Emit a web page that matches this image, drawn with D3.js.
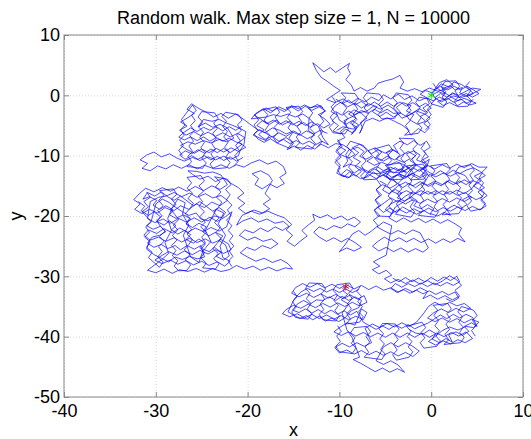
<!DOCTYPE html>
<html>
<head>
<meta charset="utf-8">
<script src="https://cdn.jsdelivr.net/npm/d3@7"></script>
<style>
body { margin: 0; background: #fff; }
text { font-family: "Liberation Sans", Arial, sans-serif; }
</style>
</head>
<body>
<div id="chart"></div>
<script>
var title = "Random walk. Max step size = 1, N = 10000";
var xTicks = [-40, -30, -20, -10, 0, 10];
var yTicks = [10, 0, -10, -20, -30, -40, -50];

// main walk, as flat x,y pairs
var walkA = [0,0, 0.8,0.6, 1.5,0.2, 1.2,1.1, 2.1,1.6, 2.6,0.9, 3.4,1.3, 3.1,0.4, 3.9,-0.2, 4.6,0.3, 4.1,1.0, 3.3,1.8, 2.5,2.2, 1.9,1.4, 1.1,1.9, 0.6,1.2, 1.4,0.5, 2.2,-0.3, 2.9,-0.9, 3.6,-0.5, 4.4,-1.0, 4.9,-1.3, 4.2,-1.6, 3.5,-1.1, 2.8,-1.8, 2.0,-1.2, 1.3,-1.7, 0.7,-1.0, 1.5,-0.6, 2.3,0.4, 3.0,0.0, 3.8,0.7, 4.5,1.2, 5.4,1.0, 4.8,0.5, 4.0,0.0, 3.2,-0.4, 2.4,-0.1, 1.6,-0.8, 0.9,-0.3, 0.2,-0.9, -0.5,-0.4, -1.2,0.2, -0.6,0.8, 0.1,0.4, 0.9,2.1, 1.7,2.6, 2.4,1.7];
var walkB = [1.6,1.0, 0.7,0.7, -0.2,1.2, -1.0,0.6, -1.8,1.1, -2.6,0.7, -3.4,1.2, -3.0,2.2, -3.4,3.3, -4.2,2.7, -5.0,2.4, -5.8,2.0, -6.2,1.2, -7.0,0.7, -7.7,1.3, -8.4,0.7, -8.7,1.7, -9.3,2.6, -8.8,3.6, -9.1,4.5, -8.9,5.3, -9.7,4.5, -10.4,3.8, -11.0,4.6, -11.7,3.9, -12.4,4.8, -12.9,5.4, -12.5,4.1, -12.0,3.0, -11.3,2.3, -10.6,1.5, -9.9,0.8, -10.7,0.0, -11.4,-0.7, -10.5,-1.2, -9.6,-0.6, -8.8,-1.3, -8.0,-0.5, -7.2,-1.1];
var walkC = [-6.5,-0.3, -5.7,-0.9, -5.2,0.1, -4.4,-0.6, -3.6,0.2, -2.9,-0.7, -2.1,-0.1, -1.3,-0.9, -0.5,-0.4, -0.2,-1.4, -0.9,-2.1, -0.4,-2.9, -1.2,-3.5, -0.6,-4.3, -1.5,-4.8, -2.3,-4.1, -1.9,-3.2, -2.7,-2.6, -2.2,-1.7, -3.1,-1.2, -3.8,-2.0, -3.3,-2.9, -4.1,-3.6, -4.9,-2.8, -5.6,-3.5, -6.4,-2.7, -5.9,-1.9, -6.8,-1.4, -7.6,-2.1, -8.3,-1.3, -9.1,-1.9, -9.8,-1.1, -10.5,-1.8, -10.9,-2.7, -10.2,-3.3, -10.8,-4.2, -10.1,-5.0, -10.7,-5.9, -9.9,-6.4, -9.3,-5.6, -8.6,-6.2, -8.1,-5.3, -8.8,-4.6, -8.2,-3.8, -9.0,-3.1, -8.4,-2.4, -7.6,-3.0, -7.0,-3.8, -7.7,-4.5, -7.5,-5.4, -7.8,-6.3, -7.2,-4.3, -6.4,-3.8, -5.6,-4.3, -4.8,-3.7, -4.0,-4.3, -3.2,-4.9, -2.6,-5.6, -2.2,-6.6, -1.4,-5.5, -0.7,-6.2, -0.2,-5.4, -0.8,-4.7, -0.1,-3.8, -0.7,-3.1, -1.6,-2.6, -2.4,-3.3, -3.2,-3.8, -4.0,-2.4, -4.7,-1.6, -5.5,-2.3, -6.3,-1.8, -7.0,-2.6, -7.9,-2.9, -8.7,-3.6, -9.5,-4.2, -9.2,-5.1, -9.9,-6.0];
var walkD = [-9.4,-7.0, -10.2,-7.6, -9.7,-8.5, -10.4,-9.3, -9.8,-10.2, -10.5,-11.1, -9.9,-12.0, -10.3,-12.9, -9.5,-13.5, -8.9,-12.7, -8.2,-13.4, -7.6,-12.6, -8.3,-11.8, -7.7,-11.0, -8.5,-10.3, -7.9,-9.5, -8.6,-8.7, -7.8,-8.1, -7.1,-8.8, -6.5,-9.7, -5.8,-9.0, -5.0,-9.6, -4.3,-8.9, -3.6,-9.5, -4.1,-8.3, -3.4,-7.6, -2.6,-8.2, -1.9,-7.5, -1.2,-8.3, -0.5,-7.6, -0.1,-8.6, -0.8,-9.3, -0.3,-10.2, -1.1,-10.8, -0.4,-11.7, -1.2,-12.4, -0.6,-13.2, -1.4,-13.8, -2.2,-13.1, -2.9,-13.8, -3.7,-13.2, -4.5,-13.9, -5.3,-13.2, -6.0,-13.8, -6.8,-13.1, -7.4,-13.9, -6.7,-12.4, -5.9,-11.8, -5.2,-12.5, -4.4,-11.9, -3.6,-12.5, -2.8,-11.8, -2.1,-12.4, -1.6,-11.5, -2.3,-10.8, -1.7,-10.0, -2.5,-9.3, -3.3,-10.0, -4.0,-10.7, -4.8,-10.1, -5.5,-10.8, -6.3,-10.2, -7.0,-10.9, -6.2,-11.6, -5.4,-11.1, -4.6,-11.6, -3.8,-11.0, -3.0,-11.5, -2.4,-12.0, -3.1,-12.7, -3.9,-12.8, -4.8,-12.6, -5.6,-13.0, -6.5,-12.9, -7.3,-12.3, -8.0,-11.8, -8.9,-11.4, -9.6,-11.9, -9.1,-10.9, -9.3,-9.8, -8.9,-8.9, -9.6,-8.2, -10.4,-8.0];
var walkE = [-11.2,-8.7, -12.0,-8.1, -12.7,-8.9, -13.5,-8.3, -14.2,-9.1, -14.9,-8.4, -15.7,-9.0, -15.1,-7.8, -15.8,-7.0, -16.6,-7.6, -17.3,-6.8, -18.1,-7.3, -18.8,-6.5, -18.2,-5.7, -19.0,-5.0, -18.4,-4.2, -17.6,-4.8, -16.9,-4.1, -16.2,-4.9, -15.4,-4.3, -14.7,-5.1, -13.9,-4.5, -13.2,-5.3, -12.4,-4.7, -11.7,-5.4, -11.0,-4.8, -11.6,-3.9, -12.3,-3.2, -11.5,-2.6, -12.2,-1.9, -13.0,-2.5, -13.7,-1.8, -14.5,-2.6, -15.2,-1.9, -16.0,-2.7, -16.8,-2.1, -17.5,-2.9, -18.3,-2.2, -19.1,-3.0, -19.6,-3.9, -18.0,-3.6, -17.2,-3.2, -16.4,-3.5, -15.6,-3.1, -14.8,-3.6, -14.0,-3.1, -13.3,-3.8, -13.4,-5.8, -12.7,-6.6, -13.5,-7.2, -14.3,-6.5, -15.0,-5.9, -15.8,-6.4, -16.5,-5.8, -17.3,-5.4, -18.1,-6.2, -19.0,-5.6, -19.8,-4.7, -20.5,-3.9];
var walkF = [-21.3,-3.1, -22.1,-3.8, -22.9,-3.0, -23.7,-3.6, -24.5,-2.8, -25.3,-2.2, -26.1,-1.4, -26.6,-2.3, -25.8,-3.0, -26.5,-3.7, -27.3,-4.4, -26.6,-5.1, -27.4,-5.8, -26.7,-6.6, -25.9,-6.0, -25.1,-6.7, -24.3,-6.1, -23.5,-6.8, -22.7,-6.2, -21.9,-6.9, -21.1,-6.3, -20.3,-7.0, -20.9,-7.8, -20.2,-8.6, -21.0,-9.3, -21.8,-8.7, -22.6,-9.4, -23.4,-8.8, -24.2,-9.5, -25.0,-8.9, -25.8,-9.6, -26.6,-9.0, -27.3,-8.3, -26.5,-7.7, -25.7,-8.1, -24.8,-7.5, -24.0,-7.9, -23.1,-7.3, -22.3,-7.7, -21.5,-7.1, -22.2,-5.4, -23.0,-4.8, -23.8,-5.3, -24.6,-4.6, -25.4,-5.2, -24.8,-4.0, -23.9,-4.3, -23.1,-4.0, -22.3,-4.6, -21.6,-5.0, -20.8,-5.5, -20.2,-6.0, -20.4,-8.2, -20.8,-9.1, -21.0,-10.0, -21.8,-10.6, -22.6,-10.1, -23.5,-10.7, -24.3,-10.2, -25.2,-10.8, -26.0,-10.3, -26.9,-10.9, -27.7,-10.4, -28.5,-9.7, -29.4,-10.2, -30.2,-9.4, -31.0,-9.9, -31.7,-10.7, -30.9,-11.3, -31.5,-12.1, -30.6,-12.5, -29.8,-11.7, -28.9,-12.2, -28.1,-11.5, -27.2,-12.1, -26.4,-11.5, -25.5,-12.2, -24.7,-11.6, -23.8,-12.1, -22.9,-11.5, -22.0,-12.1, -21.2,-11.5, -20.4,-11.9];
var walkG = [-19.6,-11.2, -18.7,-10.7, -17.8,-11.4, -16.9,-10.9, -16.1,-11.8, -15.8,-12.9, -16.5,-13.6, -16.0,-14.6, -16.8,-15.3, -17.6,-14.7, -18.4,-15.5, -19.2,-14.8, -18.8,-13.8, -19.5,-13.0, -18.6,-12.5, -17.7,-13.2, -17.3,-14.1, -18.1,-16.3, -17.5,-17.2, -18.3,-18.0, -17.6,-18.8, -18.4,-19.5, -19.3,-19.0, -20.2,-19.6, -21.0,-18.7, -20.3,-17.9, -21.1,-17.0, -20.4,-16.2, -21.0,-15.3];
var walkH = [-21.8,-14.6, -22.6,-13.7, -23.5,-14.3, -24.3,-13.4, -25.2,-13.9, -26.0,-13.1, -26.5,-12.5, -25.6,-12.6, -24.7,-12.9, -23.8,-12.7, -22.9,-13.2, -22.2,-14.8, -23.0,-15.6, -23.9,-15.0, -24.8,-15.8, -25.7,-15.1, -26.6,-15.9, -27.5,-15.2, -28.4,-15.9, -29.3,-15.3, -30.2,-16.0, -31.1,-15.4, -31.8,-16.3, -32.4,-17.3, -31.7,-18.0, -32.3,-18.9, -31.5,-19.6, -30.7,-18.9, -29.8,-19.5, -29.0,-18.6, -28.1,-19.2, -27.3,-18.3, -26.4,-18.9, -25.6,-18.0, -24.7,-18.6, -23.9,-17.7, -23.0,-18.3, -22.2,-17.4, -22.9,-16.6, -23.8,-17.0, -24.6,-16.3, -25.5,-16.9, -26.3,-16.2, -27.2,-16.8, -28.0,-16.1, -28.9,-16.7, -29.7,-16.9, -30.6,-17.6,
  -30.9,-20.4, -30.1,-21.1, -29.2,-20.5, -28.4,-21.2, -27.5,-20.4, -26.7,-21.0, -25.8,-20.3, -25.0,-21.0, -24.1,-20.2, -23.3,-20.9, -22.4,-20.1, -21.7,-19.3, -22.3,-21.8, -23.1,-22.5, -24.0,-21.9, -24.8,-22.6, -25.7,-22.0, -26.5,-22.7, -27.4,-22.0, -28.2,-22.8, -29.1,-22.1, -29.9,-22.9, -30.8,-22.3, -31.3,-23.2, -30.6,-24.0, -29.7,-23.5, -28.9,-24.2, -28.0,-23.6, -27.2,-24.3, -26.3,-23.7, -25.5,-24.4, -24.6,-23.8, -23.8,-24.5, -22.9,-23.9, -22.1,-24.6, -21.8,-25.6, -22.6,-26.2, -23.5,-25.6, -24.3,-26.3, -25.2,-25.7, -26.0,-26.4, -26.9,-25.8, -27.7,-26.5, -28.6,-25.9, -29.4,-26.6, -30.1,-27.3, -29.3,-27.9, -28.4,-27.3, -27.6,-28.0, -26.7,-27.4, -25.9,-28.1, -25.0,-27.5, -24.2,-28.2, -23.3,-27.6, -22.5,-28.3, -21.9,-27.5,
  -22.7,-26.9, -23.0,-25.0, -22.4,-23.2, -23.2,-21.3, -22.6,-19.5, -23.4,-18.9, -24.0,-20.6, -24.6,-22.4, -24.0,-24.2, -24.9,-25.9, -25.3,-27.7, -26.2,-26.8, -26.6,-25.0, -27.0,-23.2, -26.4,-21.5, -27.1,-19.7, -26.8,-17.8, -27.6,-17.2, -28.2,-18.6, -28.7,-20.4, -28.3,-22.4, -29.0,-24.4, -28.6,-26.2, -29.4,-27.3, -30.3,-28.3, -30.9,-29.0, -30.0,-29.4, -29.1,-28.8, -28.2,-29.5, -27.4,-28.9, -26.5,-29.2, -25.6,-28.7, -24.7,-29.3, -23.8,-28.7, -22.9,-29.2, -22.0,-28.9, -21.2,-28.2];
var walkI = [-20.3,-28.8, -19.4,-28.3, -18.6,-29.0, -17.7,-28.5, -16.8,-29.1, -15.9,-28.6, -15.1,-28.8, -15.6,-27.9, -16.4,-27.2, -17.3,-27.7, -18.2,-27.0, -19.1,-27.5, -20.0,-26.8, -20.8,-26.1, -20.1,-25.2, -19.2,-25.7, -18.4,-24.9, -17.5,-25.4, -16.7,-24.6, -17.4,-23.8, -18.3,-24.2, -19.2,-23.5, -20.0,-24.0, -20.9,-23.2, -20.3,-22.3, -19.4,-22.8, -18.6,-22.0, -17.8,-22.6, -17.0,-21.8, -16.2,-22.4, -15.5,-21.7, -16.1,-20.9, -17.0,-21.2, -17.9,-20.5, -18.8,-21.0, -19.6,-20.3, -20.5,-20.8, -21.2,-21.5, -20.6,-19.9];
var walkJ = [-19.6,-19.2, -18.7,-19.7, -17.8,-19.2, -16.9,-19.8, -16.0,-20.3, -15.2,-21.4, -15.8,-22.3, -15.1,-23.2, -15.7,-24.2, -14.9,-25.0, -14.2,-24.1, -13.5,-23.3, -14.1,-22.4, -13.4,-21.5, -12.7,-20.7, -12.9,-19.7, -12.1,-20.3, -11.3,-19.8, -10.6,-20.5, -9.8,-20.0, -9.1,-20.7, -8.4,-20.2, -7.7,-21.0, -8.3,-21.8, -9.1,-21.3, -9.8,-22.0, -10.6,-21.6, -11.4,-22.3, -12.2,-21.8, -12.8,-22.7, -12.2,-23.5, -11.4,-24.2, -10.6,-23.6, -9.8,-24.3, -9.1,-23.7, -8.3,-24.4, -7.6,-25.2, -8.4,-25.8, -9.2,-25.3, -10.0,-25.9, -9.4,-24.8, -8.6,-23.0, -7.9,-22.4, -7.2,-23.2, -6.5,-22.5];
var walkK = [-5.8,-21.6, -6.3,-20.7, -5.6,-19.9, -6.2,-19.0, -5.5,-18.2, -6.1,-17.3, -5.4,-16.5, -6.0,-15.6, -5.3,-14.8, -4.5,-15.4, -3.7,-14.7, -4.2,-13.8, -3.5,-13.0, -2.7,-13.5, -1.9,-12.9, -1.2,-12.2, -0.4,-11.6, 0.4,-12.2, 1.2,-11.5, 2.0,-12.1, 2.8,-11.4, 3.6,-12.0, 4.4,-11.3, 5.2,-11.9, 6.1,-11.9, 5.5,-12.8, 4.7,-13.4, 5.4,-14.2, 4.6,-15.0, 5.4,-15.8, 6.1,-16.6, 5.4,-17.4, 6.0,-18.3, 5.3,-19.0, 4.5,-18.4, 3.7,-19.1, 2.9,-18.5, 2.1,-19.2, 1.3,-18.6, 0.5,-19.3, -0.3,-18.7, -1.1,-19.4, -1.9,-18.8, -2.7,-19.5, -3.5,-18.9, -4.3,-19.6, -5.0,-18.9, -4.4,-18.0, -3.6,-17.4, -2.8,-18.0, -2.0,-17.3, -1.2,-17.9, -0.4,-17.2, 0.4,-17.8, 1.2,-17.1, 2.0,-17.7, 2.8,-17.0, 3.6,-17.6, 4.4,-16.9, 3.7,-16.1, 2.9,-16.6, 2.1,-15.9, 1.3,-16.5, 0.5,-15.8, -0.3,-16.4, -1.1,-15.8, -1.9,-16.4, -2.7,-15.8, -3.5,-16.4, -4.3,-15.9, -3.6,-15.0, -2.8,-14.4, -2.0,-15.0, -1.2,-14.3, -0.4,-14.9, 0.4,-14.2, 1.2,-14.8, 2.0,-14.1, 2.8,-14.7, 3.6,-14.0, 4.3,-14.6, 3.7,-13.3, 2.9,-12.8, 2.1,-13.4, 1.3,-12.9, 0.5,-13.5, -0.2,-13.1,
  -1.0,-15.2, -2.3,-17.0, -3.9,-18.5, -4.6,-20.3, -3.8,-21.0, -3.0,-20.3, -2.2,-21.0, -1.4,-20.4, -0.6,-21.1, 0.2,-20.5, 1.0,-21.2, 1.8,-20.6, 2.6,-21.3, 3.3,-22.0, 3.0,-23.0, 3.7,-24.3, 2.9,-23.7, 2.1,-24.4, 1.3,-23.8, 0.5,-24.5, -0.3,-23.8, -1.1,-24.4, -1.9,-23.7, -2.7,-24.3, -3.5,-23.6, -4.3,-24.2, -5.1,-23.5, -5.8,-24.2, -6.4,-25.0, -5.7,-25.8, -4.9,-25.2, -4.1,-25.9, -3.3,-25.3, -2.5,-26.0, -1.7,-25.4, -0.9,-26.0, -0.3,-25.3, -1.2,-22.8, -2.0,-22.3, -2.8,-23.0, -3.6,-22.4, -4.4,-23.0, -5.2,-22.4, -5.9,-21.8, -5.2,-21.0, -4.3,-21.6, -4.9,-26.5, -5.7,-27.1, -6.3,-27.6];
var walkM = [-5.6,-28.3, -6.4,-28.9, -5.7,-29.6, -4.9,-29.0, -4.3,-29.8, -5.1,-30.4];
var walkN = [-4.4,-31.1, -3.6,-30.5, -2.8,-31.2, -2.0,-30.6, -1.2,-31.3, -0.4,-30.7, 0.4,-31.4, 1.2,-30.8, 2.0,-29.9, 2.8,-30.6, 3.3,-31.5, 2.6,-32.3, 3.1,-33.3, 2.3,-33.9, 1.5,-33.2, 0.7,-33.8, -0.1,-33.1, -0.9,-33.7, -0.4,-32.5, -1.2,-31.9, -2.0,-32.6, -2.8,-32.0, -3.6,-32.6, -4.4,-31.9, -5.2,-32.3, -6.0,-31.6, -6.8,-32.2, -7.6,-31.5, -8.4,-32.1, -9.2,-31.4, -10.0,-32.0, -10.8,-31.3, -11.6,-31.9, -12.4,-31.2, -13.2,-31.8, -14.0,-31.2, -14.8,-31.9, -15.2,-32.8, -14.4,-33.4, -13.6,-32.8, -12.8,-33.5, -12.0,-32.9, -11.2,-33.6, -10.4,-33.0, -9.6,-33.7, -8.8,-33.1, -8.0,-33.8, -7.3,-33.2, -7.0,-34.3, -7.8,-34.9, -8.6,-34.3, -9.4,-35.0, -10.2,-34.4, -11.0,-35.1, -11.8,-34.5, -12.6,-35.2, -13.4,-34.6, -14.2,-35.3, -15.0,-34.8, -15.8,-35.5, -16.2,-36.2, -15.4,-36.7, -14.6,-36.2, -13.8,-36.9, -13.0,-36.3, -12.2,-37.0, -11.4,-36.4, -10.6,-37.1, -9.8,-36.5, -9.0,-37.2, -8.2,-36.6, -7.4,-37.2, -7.0,-36.0, -7.6,-35.4,
  -8.3,-38.1, -9.1,-37.7, -9.9,-38.4, -10.6,-39.2, -9.8,-39.8, -9.0,-39.2, -8.2,-39.9, -7.4,-39.3, -6.6,-40.0, -5.8,-39.4, -5.0,-40.1, -4.2,-39.4, -3.4,-40.1, -2.6,-39.4, -1.8,-40.1, -1.0,-39.4, -0.2,-40.1, 0.6,-39.4, 1.4,-40.0, 2.2,-39.3, 3.0,-39.9, 3.8,-39.2, 4.5,-40.3, 3.7,-41.0, 2.9,-40.5, 2.1,-41.2, 1.3,-40.7, 0.5,-41.4, -0.3,-40.8, 0.4,-40.0, 1.2,-39.0, 2.0,-38.4, 2.9,-38.9, 3.8,-38.3, 4.6,-38.5, 5.2,-37.6, 4.4,-37.1, 3.6,-37.7, 2.8,-37.0, 2.0,-37.6, 1.2,-36.9, 0.4,-37.5, -0.4,-36.9, 0.3,-36.0, 1.1,-35.4, 1.9,-36.0, 2.7,-35.3, 3.5,-35.9, 4.3,-35.3, 3.6,-34.5, 2.8,-34.9, 2.0,-34.3, 1.2,-34.9, 0.4,-34.3, -0.3,-35.0, -0.8,-36.1, -1.6,-37.6, -2.4,-38.3, -3.2,-37.7, -4.0,-38.4, -4.8,-37.8, -5.6,-38.5, -6.4,-37.9, -7.2,-38.6,
  -6.5,-41.0, -7.3,-41.6, -8.1,-41.0, -8.9,-41.7, -9.7,-41.1, -10.5,-41.8, -10.0,-42.7, -9.2,-42.2, -8.4,-42.9, -7.6,-42.3, -6.8,-43.0, -6.0,-42.4, -5.2,-43.1, -4.4,-42.5, -3.6,-43.2, -2.8,-42.6, -2.0,-43.3, -1.3,-42.4, -2.0,-41.6, -2.8,-41.0, -3.6,-41.7, -4.4,-41.0, -5.2,-41.7, -6.0,-44.0, -5.2,-44.6, -4.4,-44.0, -3.6,-44.7, -2.9,-45.9, -3.7,-45.3, -4.5,-45.9, -5.3,-45.2, -6.1,-45.8, -6.9,-45.1, -7.7,-44.4, -8.5,-43.8, -7.8,-43.4, -8.6,-40.2, -9.2,-38.8, -9.7,-36.1, -9.0,-34.6, -9.8,-33.9, -9.1,-33.0, -9.6,-32.4, -9.3,-31.7];

// further stretches of the walk in the dense patches, traced separately
var loopStart = [0.3,0.9, 1.0,1.5, 1.8,0.9, 2.5,1.5, 3.2,0.9, 3.9,1.5, 4.6,0.9, 5.2,0.3, 4.5,-0.3, 3.8,0.3, 3.1,-0.3, 2.4,0.3, 1.7,-0.3, 1.0,0.3, 0.4,-0.4, 1.1,-1.1, 1.8,-0.5, 2.5,-1.2, 3.2,-0.6, 3.9,-1.3, 4.6,-0.7];
var loopTop = [-10.3,-5.8, -9.6,-5.2, -8.5,-5.6, -7.9,-4.9, -8.6,-4.2, -9.3,-4.8, -10.0,-4.1, -10.4,-2.7, -9.7,-3.3, -9.0,-2.6, -8.3,-3.2, -7.6,-2.5, -6.9,-3.0, -6.2,-2.3, -5.5,-2.9, -4.8,-2.3, -4.1,-3.0, -3.4,-2.9, -2.7,-3.5, -2.0,-2.9, -1.3,-2.2, -0.6,-2.8, 0.0,-2.1, -0.6,-1.3, -1.3,-1.9, -2.0,-1.2, -2.7,-1.8, -3.4,-1.1, -4.1,-1.8, -4.8,-1.1, -5.5,-1.8, -6.2,-1.1, -6.9,-1.8, -7.6,-1.0, -8.3,-1.6, -9.0,-0.8, -9.7,-1.4, -10.4,-0.6];
var loopBand = [-10.1,-8.4, -9.3,-9.1, -9.9,-9.8, -9.0,-10.4, -8.3,-9.8, -8.8,-9.0, -8.0,-8.6, -7.3,-9.3, -7.8,-10.1, -7.1,-10.6, -6.4,-10.0, -6.9,-9.2, -6.1,-8.7, -5.4,-9.4, -5.9,-10.3, -5.2,-10.9, -4.5,-10.3, -4.9,-9.5, -4.1,-9.1, -3.4,-9.8, -3.8,-10.6, -3.0,-11.1, -2.3,-10.5, -2.7,-9.7, -1.9,-9.2, -1.2,-9.9, -1.6,-10.7, -0.8,-11.2, -0.2,-10.6, -0.5,-11.9, -1.3,-12.6, -2.0,-12.0, -2.6,-12.8, -3.4,-12.2, -4.1,-12.9, -4.7,-12.2, -5.5,-12.8, -6.2,-12.2, -6.9,-12.9, -7.7,-12.2, -8.4,-12.9, -9.2,-12.3, -9.8,-13.1, -9.1,-13.7, -8.4,-13.1, -7.7,-13.8, -6.9,-13.5, -6.3,-12.7, -5.6,-13.5, -4.9,-12.9, -4.3,-13.6, -3.5,-13.0, -2.8,-13.6, -2.1,-12.9, -1.3,-13.5, -0.7,-12.8, -0.1,-13.5];
var loopMid = [-11.3,-6.3, -12.1,-5.8, -12.8,-6.4, -13.6,-5.9, -14.3,-6.6, -15.1,-6.1, -15.8,-6.8, -16.6,-6.2, -17.3,-6.9, -18.0,-6.3, -18.7,-5.7, -19.3,-6.4, -18.9,-7.2, -18.2,-7.8, -17.5,-7.2, -16.8,-7.9, -16.1,-7.3, -15.4,-8.0, -14.7,-7.5, -14.0,-8.1, -13.3,-7.6, -12.6,-8.2, -11.9,-7.6, -11.2,-8.2, -11.8,-7.0, -12.3,-5.1, -13.0,-4.4, -13.7,-5.0, -14.4,-4.3, -15.1,-4.9, -15.8,-4.2, -16.5,-4.8, -17.2,-4.1, -17.9,-4.7, -18.6,-3.9, -19.3,-3.3, -18.7,-2.7, -18.0,-2.1, -17.3,-2.6, -16.6,-1.9, -15.9,-2.4, -15.2,-1.7, -14.5,-2.2, -13.8,-1.6, -13.1,-2.1, -12.4,-1.5, -11.8,-2.1];
var loopUpperLeft = [-20.6,-5.1, -21.3,-5.8, -22.0,-5.2, -22.7,-5.9, -23.4,-5.2, -24.1,-5.8, -24.8,-5.3, -25.5,-6.0, -26.2,-5.4, -26.9,-6.1, -27.5,-6.9, -26.9,-7.4, -26.2,-6.9, -25.5,-7.5, -24.8,-6.9, -24.1,-7.6, -23.4,-7.0, -22.7,-7.6, -22.0,-7.1, -21.3,-7.7, -20.6,-8.1, -21.2,-8.8, -21.9,-9.5, -22.6,-8.8, -23.3,-9.5, -24.0,-8.9, -24.7,-9.6, -25.4,-9.0, -26.1,-9.7, -26.8,-9.2, -27.4,-9.9, -26.8,-10.6, -26.1,-10.0, -25.4,-10.6, -24.7,-10.0, -24.0,-10.7, -23.3,-10.1, -22.6,-10.8, -21.9,-10.2, -21.2,-10.9, -20.5,-10.3];
var loopLeft = [-31.9,-17.6, -31.2,-18.4, -31.6,-19.1, -30.8,-19.9, -30.2,-19.3, -29.5,-20.1, -29.9,-20.9, -29.1,-21.5, -28.5,-20.8, -27.8,-21.6, -28.3,-22.3, -27.6,-23.0, -26.9,-22.4, -26.2,-23.1, -26.7,-23.9, -25.9,-24.5, -25.3,-23.8, -24.6,-24.6, -25.0,-25.4, -24.2,-25.9, -23.6,-25.2, -22.9,-26.0, -23.4,-26.7, -22.6,-27.3, -22.0,-26.6, -22.4,-24.8, -23.1,-24.1, -22.7,-23.3, -23.5,-22.7, -24.2,-23.3, -24.9,-22.6, -24.5,-21.8, -25.3,-21.2, -26.0,-21.9, -26.7,-21.3, -26.3,-20.4, -27.0,-19.8, -27.8,-20.4, -28.5,-19.8, -28.1,-19.0, -28.9,-18.3, -29.6,-18.9, -30.3,-18.2, -29.9,-17.4, -30.7,-16.8, -31.4,-17.2, -30.9,-16.1, -30.1,-16.7, -29.4,-16.0, -28.7,-16.8, -28.0,-17.4, -27.3,-16.7, -26.6,-17.5, -25.9,-18.3, -25.2,-17.6, -24.5,-18.4, -23.8,-19.2, -23.1,-18.6, -22.4,-19.4, -22.8,-20.3, -23.6,-20.0, -24.3,-20.8, -25.1,-20.5, -25.6,-19.5, -26.4,-19.9, -27.2,-19.2, -27.9,-18.5, -28.6,-17.7, -29.3,-17.2, -30.0,-18.0, -30.5,-20.9, -31.0,-21.6, -30.3,-22.2, -29.5,-21.7, -28.9,-22.6, -29.6,-23.2, -30.4,-23.5, -30.9,-24.5, -30.2,-25.2, -29.4,-24.7, -28.7,-25.4, -27.9,-24.9, -27.3,-25.6, -26.6,-24.9, -25.8,-25.5, -25.1,-24.9, -24.7,-26.8, -25.5,-27.1, -26.3,-26.7, -27.1,-27.2, -27.9,-26.8, -28.6,-27.6, -29.4,-27.0, -30.2,-26.4, -31.0,-25.5, -30.7,-24.1];
var loopRight = [-5.6,-14.2, -4.9,-14.8, -5.3,-15.7, -4.6,-16.3, -3.9,-15.6, -3.2,-16.2, -3.7,-17.0, -2.9,-17.5, -2.2,-16.8, -1.5,-17.5, -1.9,-18.3, -1.1,-18.8, -0.4,-18.1, 0.3,-18.8, -0.1,-19.6, 0.7,-20.0, 1.4,-19.4, 2.1,-19.9, 1.7,-18.9, 2.5,-18.2, 3.2,-18.8, 3.9,-18.1, 3.4,-17.3, 4.2,-16.7, 4.9,-17.3, 5.6,-16.8, 5.1,-16.0, 5.8,-15.3, 5.2,-14.6, 4.5,-14.1, 3.8,-14.8, 3.1,-14.2, 2.4,-14.8, 1.7,-14.2, 1.1,-15.0, 0.4,-14.5, -0.3,-15.1, -1.0,-14.5, -1.7,-15.3, -2.4,-14.6, -3.1,-15.3, -3.8,-14.4, -4.5,-13.8, -5.2,-13.2, -4.6,-12.4, -3.9,-12.0, -3.2,-12.7, -2.5,-12.1, -1.8,-11.4, -1.1,-12.0, -0.4,-12.6, 0.3,-13.2, 1.0,-12.5, 1.7,-13.1, 2.4,-12.4, 3.1,-13.0, 3.8,-12.4, 4.6,-12.0, 5.3,-12.6, 5.9,-13.3, 5.2,-13.9, 4.4,-15.5, 3.6,-16.3, 2.8,-15.7, 2.0,-16.4, 1.2,-15.8, 0.4,-16.5, -0.4,-15.9, -1.2,-16.6, -2.0,-16.0, -2.8,-16.7, -3.6,-17.7, -4.4,-17.0, -5.1,-17.8, -5.8,-18.6, -5.2,-19.4, -4.5,-18.7, -3.8,-19.4, -3.1,-18.5, -2.4,-19.1, -1.6,-19.7, -0.8,-19.1, 0.0,-19.8];
var loopLow = [-2.4,-38.8, -1.7,-39.4, -0.9,-39.6, -0.2,-38.9, 0.5,-39.5, 0.1,-40.4, 0.9,-41.0, 1.6,-40.3, 2.3,-40.9, 1.9,-39.7, 2.7,-39.2, 3.4,-39.8, 4.1,-39.1, 3.6,-38.3, 4.4,-37.7, 5.0,-38.3, 4.5,-36.8, 3.8,-36.3, 3.1,-36.9, 2.4,-36.3, 1.7,-37.0, 1.0,-36.4, 0.3,-37.1, -0.4,-37.8, -1.1,-38.2, -1.8,-38.7, -2.5,-38.0, -3.2,-38.6, -3.9,-38.1, -4.6,-38.8, -5.3,-38.2, -6.0,-38.8, -6.7,-38.2, -7.4,-37.6, -8.1,-35.8, -8.8,-36.4, -9.5,-35.7, -10.2,-36.3, -10.9,-35.6, -11.6,-36.2, -12.3,-35.5, -13.0,-36.1, -13.7,-35.4, -14.4,-36.0, -15.1,-35.6, -14.6,-34.6, -13.9,-34.0, -13.2,-34.6, -12.5,-33.9, -11.8,-34.0, -11.1,-33.4, -10.4,-34.0, -9.7,-33.3, -9.0,-34.0, -8.3,-33.4, -7.6,-34.0, -7.9,-35.2, -8.7,-35.7, -9.4,-36.9, -10.1,-37.5, -10.8,-36.9, -11.5,-37.4, -12.2,-36.6, -12.9,-37.2, -13.6,-36.5, -14.3,-37.0, -15.0,-36.4, -15.6,-35.9, -14.9,-33.7, -14.2,-32.6, -13.5,-32.0, -12.8,-32.5, -12.1,-32.0, -11.4,-32.6, -10.7,-32.1, -10.0,-32.7, -9.3,-32.1, -8.6,-32.7, -7.9,-32.2];
var loopLowRight = [-4.2,-30.3, -3.5,-30.9, -2.8,-30.2, -2.1,-30.9, -1.4,-30.3, -0.7,-30.9, 0.0,-30.2, 0.7,-30.8, 1.4,-30.1, 2.1,-30.7, 2.8,-30.0, 3.1,-30.9, 2.4,-31.5, 1.7,-31.0, 1.0,-31.6, 0.3,-31.1, -0.4,-31.7, -1.1,-31.1, -1.8,-31.7, -2.5,-31.2, -3.2,-31.8, -3.9,-31.2, -4.4,-32.0, -3.7,-32.7, -3.0,-32.2, -2.3,-32.8, -1.6,-32.3, -0.9,-32.9, -0.2,-32.4, 0.5,-33.0, 1.2,-32.5, 1.9,-33.1, 2.6,-32.6, 3.0,-33.6, 2.3,-34.2, 1.6,-33.7];

// up-and-down stretches crossing the same dense patches
var colsLeft = [-31.0,-16.0, -30.6,-16.9, -31.3,-17.6, -30.8,-18.5, -31.5,-19.3, -31.0,-20.1, -30.5,-21.0, -31.1,-21.8, -30.7,-22.7, -31.2,-23.5, -30.6,-24.3, -31.0,-25.2, -30.4,-26.0, -30.8,-26.9, -30.2,-27.7,
  -29.6,-28.5, -29.2,-27.6, -29.8,-26.8, -29.3,-25.9, -29.7,-25.1, -29.1,-24.2, -29.6,-23.4, -29.0,-22.5, -29.5,-21.7, -29.9,-20.8, -29.3,-20.0, -29.8,-19.1, -29.2,-18.3, -29.7,-17.4, -29.1,-16.6, -29.6,-15.8,
  -28.1,-15.5, -27.7,-16.4, -28.3,-17.2, -27.8,-18.1, -28.4,-18.9, -27.9,-19.8, -27.5,-20.6, -28.1,-21.5, -27.6,-22.3, -28.2,-23.2, -27.7,-24.0, -28.3,-24.9, -27.8,-25.7, -28.2,-26.6, -27.6,-27.4, -28.0,-28.3, -27.5,-29.1,
  -26.6,-29.0, -26.2,-28.1, -26.8,-27.3, -26.3,-26.4, -26.9,-25.6, -26.4,-24.7, -26.0,-23.9, -26.6,-23.0, -26.1,-22.2, -26.7,-21.3, -26.2,-20.5, -26.8,-19.6, -26.3,-18.8, -25.9,-17.9, -26.5,-17.1, -26.0,-16.2, -26.6,-15.4, -26.1,-14.5, -26.6,-13.6,
  -25.1,-13.3, -24.7,-14.2, -25.3,-15.0, -24.8,-15.9, -25.4,-16.7, -24.9,-17.6, -25.3,-18.4, -24.7,-19.3, -25.2,-20.1, -24.6,-21.0, -25.1,-21.8, -24.5,-22.7, -25.0,-23.5, -24.6,-24.4, -25.2,-25.2, -24.7,-26.1, -25.1,-26.9, -24.5,-27.8, -24.9,-28.6,
  -23.5,-28.8, -23.1,-27.9, -23.7,-27.1, -23.2,-26.2, -23.8,-25.4, -23.3,-24.5, -22.9,-23.7, -23.5,-22.8, -23.0,-22.0, -23.6,-21.1, -23.1,-20.3, -23.7,-19.4, -23.2,-18.6, -22.8,-17.7, -23.4,-16.9, -22.9,-16.0, -23.5,-15.2, -23.0,-14.3, -23.6,-13.5,
  -22.2,-13.9, -21.8,-14.8, -22.4,-15.6, -21.9,-16.5, -22.3,-17.3, -21.7,-18.2, -22.2,-19.0, -21.8,-19.9, -22.3,-20.7, -21.7,-21.6, -22.1,-22.4, -21.6,-23.3, -22.0,-24.1, -21.5,-25.0, -22.0,-25.8, -21.6,-26.7, -22.1,-27.5, -21.7,-28.4];
var colsBand = [-10.2,-7.3, -9.8,-8.2, -10.3,-9.0, -9.9,-9.9, -10.4,-10.7, -9.9,-11.6, -10.2,-12.4, -9.8,-13.3,
  -8.9,-13.6, -8.5,-12.7, -9.0,-11.9, -8.6,-11.0, -9.1,-10.2, -8.7,-9.3, -9.2,-8.5, -8.8,-7.6,
  -7.4,-8.3, -7.0,-9.2, -7.5,-10.0, -7.1,-10.9, -7.6,-11.7, -7.2,-12.6, -7.7,-13.4, -7.3,-14.0,
  -5.9,-13.9, -5.5,-13.0, -6.0,-12.2, -5.6,-11.3, -6.1,-10.5, -5.7,-9.6, -6.2,-8.9,
  -4.6,-8.2, -4.2,-9.1, -4.7,-9.9, -4.3,-10.8, -4.8,-11.6, -4.4,-12.5, -4.9,-13.3, -4.5,-14.0,
  -3.1,-13.9, -2.7,-13.0, -3.2,-12.2, -2.8,-11.3, -3.3,-10.5, -2.9,-9.6, -3.4,-8.8, -3.0,-7.9, -3.5,-7.1,
  -1.9,-7.2, -1.5,-8.1, -2.0,-8.9, -1.6,-9.8, -2.1,-10.6, -1.7,-11.5, -2.2,-12.3, -1.8,-13.2, -2.3,-14.0,
  -0.8,-13.9, -0.4,-13.0, -0.9,-12.2, -0.5,-11.3, -1.0,-10.5, -0.6,-9.6, -1.1,-8.8, -0.7,-7.9];
var colsTop = [-10.8,-0.2, -10.4,-1.1, -10.9,-1.9, -10.5,-2.8, -11.0,-3.6, -10.6,-4.5, -11.1,-5.3, -10.7,-6.2,
  -9.4,-6.4, -9.0,-5.5, -9.5,-4.7, -9.1,-3.8, -9.6,-3.0, -9.2,-2.1, -9.7,-1.3, -9.3,-0.4, -9.8,0.4,
  -8.3,0.3, -7.9,-0.6, -8.4,-1.4, -8.0,-2.3, -8.5,-3.1, -8.1,-4.0, -8.6,-4.8, -8.2,-5.7, -8.7,-6.5,
  -7.2,-3.8, -6.8,-3.0, -7.3,-2.1, -6.9,-1.3, -7.4,-0.4, -7.0,0.4,
  -5.6,0.2, -5.2,-0.7, -5.7,-1.5, -5.3,-2.4, -5.8,-3.2, -5.4,-3.9,
  -4.0,-3.8, -3.6,-2.9, -4.1,-2.1, -3.7,-1.2, -4.2,-0.4, -3.8,0.4,
  -2.5,0.1, -2.1,-0.8, -2.6,-1.6, -2.2,-2.5, -2.7,-3.3, -2.3,-4.2, -2.8,-5.0, -2.4,-5.9, -2.9,-6.6,
  -1.4,-6.3, -1.0,-5.4, -1.5,-4.6, -1.1,-3.7, -1.6,-2.9, -1.2,-2.0, -1.7,-1.2, -1.3,-0.3,
  -0.3,-0.6, 0.1,-1.5, -0.4,-2.3, 0.0,-3.2, -0.5,-4.0, -0.1,-4.9, -0.6,-5.7];
var colsUpperLeft = [-27.1,-10.0, -27.5,-9.1, -27.0,-8.3, -27.4,-7.4, -26.9,-6.6, -27.3,-5.7, -26.8,-4.9, -27.2,-4.0,
  -26.0,-1.6, -25.6,-2.5, -26.1,-3.3, -25.7,-4.2, -26.2,-5.0, -25.8,-5.9, -26.3,-6.7, -25.9,-7.6, -26.4,-8.4, -26.0,-9.3, -26.5,-10.1, -26.1,-11.0, -26.6,-11.8,
  -24.9,-12.1, -24.5,-11.2, -25.0,-10.4, -24.6,-9.5, -25.1,-8.7, -24.7,-7.8, -25.2,-7.0, -24.8,-6.1, -25.3,-5.3, -24.9,-4.4, -25.4,-3.6, -25.0,-2.7,
  -23.6,-2.9, -23.2,-3.8, -23.7,-4.6, -23.3,-5.5, -23.8,-6.3, -23.4,-7.2, -23.9,-8.0, -23.5,-8.9, -24.0,-9.7, -23.6,-10.6, -24.1,-11.4, -23.7,-12.2,
  -22.3,-12.0, -21.9,-11.1, -22.4,-10.3, -22.0,-9.4, -22.5,-8.6, -22.1,-7.7, -22.6,-6.9, -22.2,-6.0, -22.7,-5.2, -22.3,-4.3, -22.8,-3.5, -22.4,-2.8,
  -21.0,-3.2, -20.6,-4.1, -21.1,-4.9, -20.7,-5.8, -21.2,-6.6, -20.8,-7.5, -21.3,-8.3, -20.9,-9.2, -21.4,-10.0, -21.0,-10.9, -21.5,-11.7];
var colsMid = [-19.2,-3.2, -18.8,-4.1, -19.3,-4.9, -18.9,-5.8, -19.4,-6.6,
  -18.0,-7.5, -17.6,-6.6, -18.1,-5.8, -17.7,-4.9, -18.2,-4.1, -17.8,-3.2, -18.3,-2.4,
  -16.9,-1.9, -16.5,-2.8, -17.0,-3.6, -16.6,-4.5, -17.1,-5.3, -16.7,-6.2, -17.2,-7.0, -16.8,-7.9,
  -15.4,-8.8, -15.0,-7.9, -15.5,-7.1, -15.1,-6.2, -15.6,-5.4, -15.2,-4.5, -15.7,-3.7, -15.3,-2.8, -15.8,-2.0,
  -14.4,-1.8, -14.0,-2.7, -14.5,-3.5, -14.1,-4.4, -14.6,-5.2, -14.2,-6.1, -14.7,-6.9, -14.3,-7.8, -14.8,-8.6,
  -13.0,-8.9, -12.6,-8.0, -13.1,-7.2, -12.7,-6.3, -13.2,-5.5, -12.8,-4.6, -13.3,-3.8, -12.9,-2.9, -13.4,-2.1,
  -12.0,-1.7, -11.6,-2.6, -12.1,-3.4, -11.7,-4.3, -12.2,-5.1, -11.8,-6.0, -12.3,-6.8, -11.9,-7.7, -12.4,-8.5];
var colsRight = [-5.9,-14.0, -5.5,-14.9, -6.0,-15.7, -5.6,-16.6, -6.1,-17.4, -5.7,-18.3, -6.2,-19.1, -5.8,-20.0,
  -4.5,-20.1, -4.1,-19.2, -4.6,-18.4, -4.2,-17.5, -4.7,-16.7, -4.3,-15.8, -4.8,-15.0, -4.4,-14.1, -4.9,-13.3, -4.5,-12.4, -5.0,-11.6,
  -3.4,-11.2, -3.0,-12.1, -3.5,-12.9, -3.1,-13.8, -3.6,-14.6, -3.2,-15.5, -3.7,-16.3, -3.3,-17.2, -3.8,-18.0, -3.4,-18.9, -3.9,-19.7,
  -2.2,-20.2, -1.8,-19.3, -2.3,-18.5, -1.9,-17.6, -2.4,-16.8, -2.0,-15.9, -2.5,-15.1, -2.1,-14.2, -2.6,-13.4, -2.2,-12.5, -2.7,-11.7,
  -0.9,-11.4, -0.5,-12.3, -1.0,-13.1, -0.6,-14.0, -1.1,-14.8, -0.7,-15.7, -1.2,-16.5, -0.8,-17.4, -1.3,-18.2, -0.9,-19.1, -1.4,-19.9,
  0.4,-20.2, 0.8,-19.3, 0.3,-18.5, 0.7,-17.6, 0.2,-16.8, 0.6,-15.9, 0.1,-15.1, 0.5,-14.2, 0.0,-13.4, 0.4,-12.5, -0.1,-11.7,
  1.7,-11.3, 2.1,-12.2, 1.6,-13.0, 2.0,-13.9, 1.5,-14.7, 1.9,-15.6, 1.4,-16.4, 1.8,-17.3, 1.3,-18.1, 1.7,-19.0, 1.2,-19.8,
  3.0,-19.6, 3.4,-18.7, 2.9,-17.9, 3.3,-17.0, 2.8,-16.2, 3.2,-15.3, 2.7,-14.5, 3.1,-13.6, 2.6,-12.8, 3.0,-11.9,
  4.3,-11.5, 4.7,-12.4, 4.2,-13.2, 4.6,-14.1, 4.1,-14.9, 4.5,-15.8, 4.0,-16.6, 4.4,-17.5, 3.9,-18.3, 4.3,-19.2,
  5.5,-18.8, 5.9,-17.9, 5.4,-17.1, 5.8,-16.2, 5.3,-15.4, 5.7,-14.5, 5.2,-13.7, 5.6,-12.8];
var colsLowLeft = [-15.0,-32.5, -14.6,-33.4, -15.1,-34.2, -14.7,-35.1, -15.2,-35.9, -14.8,-36.8,
  -13.4,-37.1, -13.0,-36.2, -13.5,-35.4, -13.1,-34.5, -13.6,-33.7, -13.2,-32.8, -13.7,-32.0, -13.3,-31.1,
  -11.9,-31.2, -11.5,-32.1, -12.0,-32.9, -11.6,-33.8, -12.1,-34.6, -11.7,-35.5, -12.2,-36.3, -11.8,-37.2,
  -10.4,-37.4, -10.0,-36.5, -10.5,-35.7, -10.1,-34.8, -10.6,-34.0, -10.2,-33.1, -10.7,-32.3, -10.3,-31.4,
  -8.9,-31.1, -8.5,-32.0, -9.0,-32.8, -8.6,-33.7, -9.1,-34.5, -8.7,-35.4, -9.2,-36.2, -8.8,-37.1, -9.3,-37.9,
  -7.8,-37.6, -7.4,-36.7, -7.9,-35.9, -7.5,-35.0, -8.0,-34.2, -7.6,-33.3, -8.1,-32.5, -7.7,-31.6];
var colsLow = [-10.2,-38.2, -9.8,-39.1, -10.3,-39.9, -9.9,-40.8, -10.4,-41.6, -10.0,-42.5,
  -8.6,-42.8, -8.2,-41.9, -8.7,-41.1, -8.3,-40.2, -8.8,-39.4, -8.4,-38.5,
  -7.0,-38.3, -6.6,-39.2, -7.1,-40.0, -6.7,-40.9, -7.2,-41.7, -6.8,-42.6, -7.3,-43.4,
  -5.4,-43.8, -5.0,-42.9, -5.5,-42.1, -5.1,-41.2, -5.6,-40.4, -5.2,-39.5, -5.7,-38.7, -5.3,-37.8,
  -3.9,-37.9, -3.5,-38.8, -4.0,-39.6, -3.6,-40.5, -4.1,-41.3, -3.7,-42.2, -4.2,-43.0, -3.8,-43.9,
  -2.4,-43.4, -2.0,-42.5, -2.5,-41.7, -2.1,-40.8, -2.6,-40.0, -2.2,-39.1, -2.7,-38.3,
  -1.0,-37.6, -0.6,-38.5, -1.1,-39.3, -0.7,-40.2, -1.2,-41.0, -0.8,-41.9,
  0.6,-41.6, 1.0,-40.7, 0.5,-39.9, 0.9,-39.0, 0.4,-38.2, 0.8,-37.3, 0.3,-36.5, 0.7,-35.6, 0.2,-34.8,
  1.8,-34.5, 2.2,-35.4, 1.7,-36.2, 2.1,-37.1, 1.6,-37.9, 2.0,-38.8, 1.5,-39.6, 1.9,-40.5, 1.4,-41.3,
  3.2,-41.0, 3.6,-40.1, 3.1,-39.3, 3.5,-38.4, 3.0,-37.6, 3.4,-36.7, 2.9,-35.9, 3.3,-35.0,
  4.6,-35.6, 5.0,-36.5, 4.5,-37.3, 4.9,-38.2, 4.4,-39.0, 4.8,-39.9];
var colsStart = [0.2,2.0, 0.6,1.1, 0.1,0.3, 0.5,-0.6, 0.0,-1.4,
  1.3,-2.0, 1.7,-1.1, 1.2,-0.3, 1.6,0.6, 1.1,1.4, 1.5,2.3,
  2.7,2.4, 3.1,1.5, 2.6,0.7, 3.0,-0.2, 2.5,-1.0, 2.9,-1.9,
  4.0,-1.8, 4.4,-0.9, 3.9,-0.1, 4.3,0.8, 3.8,1.6, 4.2,2.3];

var width = 531, height = 439;
var pLeft = 64, pRight = 523, pTop = 35, pBottom = 397;

var svg = d3.select("#chart").append("svg")
	.attr("width", width)
	.attr("height", height);

var x = d3.scaleLinear().domain([-40, 10]).range([pLeft, pRight]);
var y = d3.scaleLinear().domain([-50, 10]).range([pBottom, pTop]);

// dotted grid
var gx = svg.append("g")
	.attr("transform", "translate(0," + pBottom + ")")
	.call(d3.axisBottom(x).tickValues(xTicks).tickSize(-(pBottom - pTop)).tickFormat(""));
var gy = svg.append("g")
	.attr("transform", "translate(" + pLeft + ",0)")
	.call(d3.axisLeft(y).tickValues(yTicks).tickSize(-(pRight - pLeft)).tickFormat(""));
[gx, gy].forEach(function(g) {
	g.select(".domain").remove();
	g.selectAll("line").attr("stroke", "#d9d9d9").attr("stroke-dasharray", "1,2");
});

function toPairs(seg) {
	var out = [];
	for (var i = 0; i < seg.length; i += 2) out.push([seg[i], seg[i + 1]]);
	return out;
}

var pts = [];
[walkA, walkB, walkC, walkD, walkE, walkF, walkG, walkH, walkI, walkJ, walkK, walkM, walkN].forEach(function(seg) {
	pts = pts.concat(toPairs(seg));
});
var pieces = [loopStart, loopTop, loopBand, loopMid, loopUpperLeft, loopLeft, loopRight, loopLow, loopLowRight,
	colsLeft, colsBand, colsTop, colsUpperLeft, colsMid, colsRight, colsLowLeft, colsLow, colsStart].map(toPairs);

var line = d3.line()
	.x(function(d) { return x(d[0]); })
	.y(function(d) { return y(d[1]); });

svg.append("g").selectAll("path")
	.data(pieces.concat([pts]))
	.enter().append("path")
	.attr("d", line)
	.attr("fill", "none")
	.attr("stroke", "#0000ff")
	.attr("stroke-width", 0.7)
	.attr("stroke-linejoin", "round");

var star = d3.symbol().type(d3.symbolAsterisk).size(40);
svg.append("path")
	.attr("d", star())
	.attr("transform", "translate(" + x(pts[0][0]) + "," + y(pts[0][1]) + ")")
	.attr("fill", "none").attr("stroke", "#00ee00").attr("stroke-width", 1);
svg.append("path")
	.attr("d", star())
	.attr("transform", "translate(" + x(pts[pts.length - 1][0]) + "," + y(pts[pts.length - 1][1]) + ")")
	.attr("fill", "none").attr("stroke", "#ff0000").attr("stroke-width", 1);

// box with inward ticks
var fmt = function(d) { return String(d); };
function styleAxis(g) {
	g.select(".domain").remove();
	g.selectAll("line").attr("stroke", "#888");
	g.selectAll("text").attr("fill", "#000").style("font-size", "18px");
}
svg.append("g").attr("transform", "translate(0," + pBottom + ")")
	.call(d3.axisBottom(x).tickValues(xTicks).tickSizeInner(-5).tickSizeOuter(0).tickPadding(7).tickFormat(fmt))
	.call(styleAxis);
svg.append("g").attr("transform", "translate(0," + pTop + ")")
	.call(d3.axisTop(x).tickValues(xTicks).tickSizeInner(-5).tickSizeOuter(0).tickFormat(""))
	.call(styleAxis);
svg.append("g").attr("transform", "translate(" + pLeft + ",0)")
	.call(d3.axisLeft(y).tickValues(yTicks).tickSizeInner(-5).tickSizeOuter(0).tickPadding(4).tickFormat(fmt))
	.call(styleAxis);
svg.append("g").attr("transform", "translate(" + pRight + ",0)")
	.call(d3.axisRight(y).tickValues(yTicks).tickSizeInner(-5).tickSizeOuter(0).tickFormat(""))
	.call(styleAxis);

svg.append("rect")
	.attr("x", pLeft).attr("y", pTop)
	.attr("width", pRight - pLeft).attr("height", pBottom - pTop)
	.attr("fill", "none").attr("stroke", "#888").attr("stroke-width", 1);

svg.append("text")
	.attr("x", (pLeft + pRight) / 2).attr("y", 24)
	.attr("text-anchor", "middle").style("font-size", "18px")
	.text(title);
svg.append("text")
	.attr("x", (pLeft + pRight) / 2).attr("y", 436)
	.attr("text-anchor", "middle").style("font-size", "18px")
	.text("x");
svg.append("text")
	.attr("transform", "translate(22," + (pTop + pBottom) / 2 + ") rotate(-90)")
	.attr("text-anchor", "middle").style("font-size", "18px")
	.text("y");
</script>
</body>
</html>
